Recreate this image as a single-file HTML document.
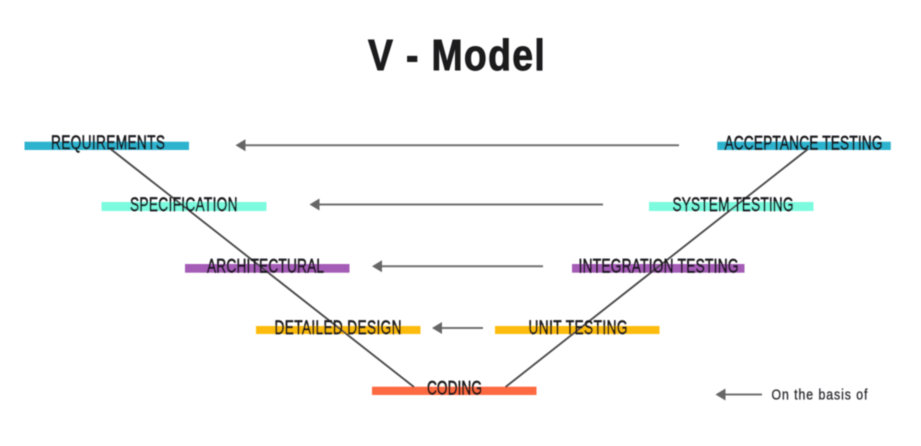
<!DOCTYPE html>
<html>
<head>
<meta charset="utf-8">
<style>
html,body{margin:0;padding:0;background:#fff;width:921px;height:446px;overflow:hidden}
svg{display:block}
text{font-family:"Liberation Sans",sans-serif;fill:#15151a}
.l text{stroke:#15151a;stroke-width:.65px}
</style>
</head>
<body>
<svg width="921" height="446" viewBox="0 0 921 446">
<defs><filter id="b" x="-5%" y="-5%" width="110%" height="110%"><feGaussianBlur stdDeviation="0.4"/></filter></defs>
<rect width="921" height="446" fill="#fff"/>
<g filter="url(#b)">
<!-- bars -->
<rect x="24.500" y="141.700" width="164.500" height="8.300" fill="#2fb3cf"/>
<rect x="101.500" y="202" width="165" height="9" fill="#7cfbdf"/>
<rect x="185" y="264" width="164.500" height="8.700" fill="#a45cb6"/>
<rect x="256" y="326" width="164.500" height="8" fill="#fdbc0a"/>
<rect x="372" y="386.700" width="164.500" height="8.300" fill="#fd6b43"/>
<rect x="495" y="326" width="164.500" height="8" fill="#fdbc0a"/>
<rect x="572" y="264" width="172.500" height="8.700" fill="#a45cb6"/>
<rect x="649" y="202" width="164.500" height="9" fill="#7cfbdf"/>
<rect x="717.300" y="141.700" width="173.500" height="8.300" fill="#2fb3cf"/>
<!-- V lines -->
<line x1="110" y1="148.500" x2="414" y2="387" stroke="#444" stroke-width="1.800"/>
<line x1="808" y1="149" x2="505.500" y2="387" stroke="#444" stroke-width="1.800"/>
<!-- arrows -->
<g stroke="#707070" stroke-width="2" fill="#666">
<line x1="243" y1="145.300" x2="679" y2="145.300"/>
<line x1="317" y1="204.500" x2="603" y2="204.500"/>
<line x1="380" y1="266.300" x2="543" y2="266.300"/>
<line x1="440" y1="328" x2="483" y2="328"/>
<line x1="724" y1="394.500" x2="762" y2="394.500"/>
</g>
<g fill="#666">
<polygon points="235.500,145.300 245.500,139.300 245.500,151.300"/>
<polygon points="309.500,204.500 319.500,198.500 319.500,210.500"/>
<polygon points="372,266.300 382,260.300 382,272.300"/>
<polygon points="432,328 442,322 442,334"/>
<polygon points="715.500,394.500 725.500,388.500 725.500,400.500"/>
</g>
<!-- labels -->
<g font-size="19" class="l">
<text transform="translate(51,149) scale(.72,1)" textLength="158.300" lengthAdjust="spacing">REQUIREMENTS</text>
<text transform="translate(130,211) scale(.72,1)" textLength="149.300" lengthAdjust="spacing">SPECIFICATION</text>
<text transform="translate(207,272.500) scale(.72,1)" textLength="162.500" lengthAdjust="spacing">ARCHITECTURAL</text>
<text transform="translate(274.500,334) scale(.72,1)" textLength="176.400" lengthAdjust="spacing">DETAILED DESIGN</text>
<text transform="translate(427,394.500) scale(.72,1)" textLength="76.400" lengthAdjust="spacing">CODING</text>
<text transform="translate(528.500,334) scale(.72,1)" textLength="137.500" lengthAdjust="spacing">UNIT TESTING</text>
<text transform="translate(578.500,272.500) scale(.72,1)" textLength="222.200" lengthAdjust="spacing">INTEGRATION TESTING</text>
<text transform="translate(672.500,211) scale(.72,1)" textLength="168" lengthAdjust="spacing">SYSTEM TESTING</text>
<text transform="translate(724.500,149.500) scale(.72,1)" textLength="219.400" lengthAdjust="spacing">ACCEPTANCE TESTING</text>
</g>
<text transform="translate(771.500,399.500) scale(.82,1)" font-size="15" textLength="117" lengthAdjust="spacing" style="fill:#2a2a2e;stroke:#2a2a2e;stroke-width:.3px">On the basis of</text>
<text transform="translate(368,70) scale(.85,1)" font-size="44" font-weight="700" textLength="208" lengthAdjust="spacing" style="fill:#1a1a1d;stroke:#1a1a1d;stroke-width:.9px">V - Model</text>
</g>
</svg>
</body>
</html>
